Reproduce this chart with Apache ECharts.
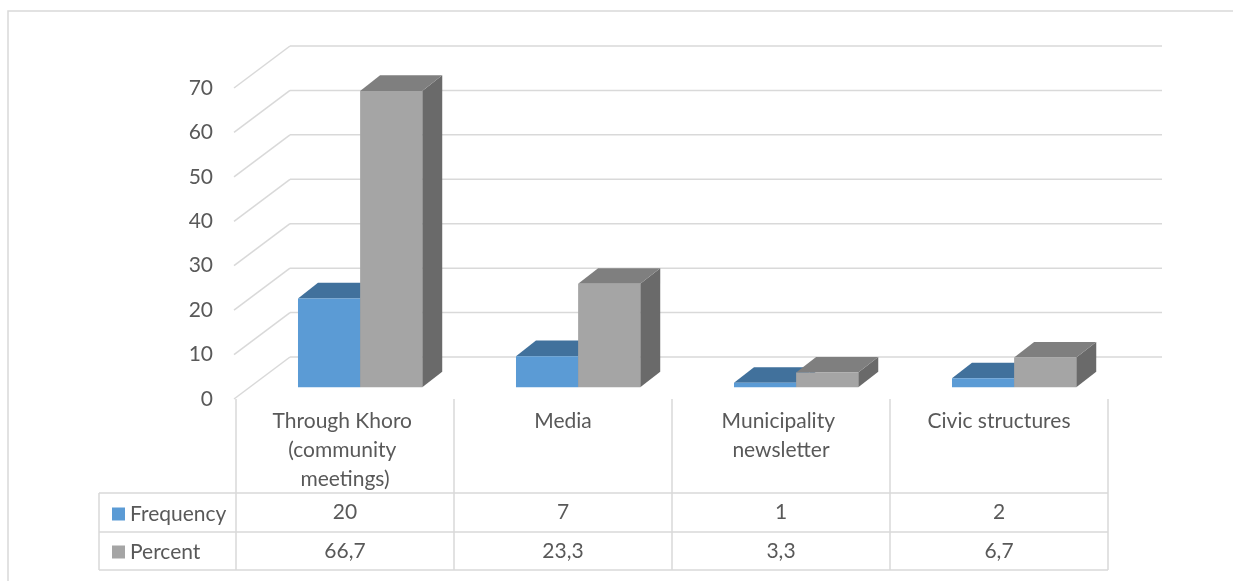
<!DOCTYPE html>
<html><head><meta charset="utf-8">
<script src="https://cdn.jsdelivr.net/npm/echarts@6/dist/echarts.min.js"></script>
<style>html,body{margin:0;padding:0;background:#fff}#chart{width:1233px;height:581px}</style>
</head><body><div id="chart"></div>
<script>
const categories = ['Through Khoro (community meetings)', 'Media', 'Municipality newsletter', 'Civic structures'];
const frequency = [20, 7, 1, 2];
const percent = [66.7, 23.3, 3.3, 6.7];
const yTicks = [0, 10, 20, 30, 40, 50, 60, 70];
const seriesNames = ['Frequency', 'Percent'];

const FONT = 'Lato';
const FS = 21;
const TXT = '#595959';
const LINE = '#D9D9D9';
const DEPTH = [54, -42];
const T0 = 0.28, T1 = 0.65;
const BAR_FRAC = 0.285;
const BLUE = {front: '#5B9BD5', top: '#41719C', side: '#3E6A93'};
const GREY = {front: '#A5A5A5', top: '#7F7F7F', side: '#6A6A6A'};

function fmt(v) { return String(v).replace('.', ','); }

function barRender(colors, side) {
  return function (params, api) {
    const i = api.value(0), v = api.value(1);
    const band = api.size([1, 0])[0];
    const w = band * BAR_FRAC;
    const base = api.coord([i, 0]);
    const top = api.coord([i, v]);
    const x0 = base[0] + DEPTH[0] * T0 + (side < 0 ? -w : 0);
    const x1 = x0 + w;
    const yb = base[1] + DEPTH[1] * T0;
    const yt = top[1] + DEPTH[1] * T0;
    const dx = DEPTH[0] * (T1 - T0), dy = DEPTH[1] * (T1 - T0);
    return {type: 'group', children: [
      {type: 'polygon', shape: {points: [[x1, yb], [x1 + dx, yb + dy], [x1 + dx, yt + dy], [x1, yt]]}, style: {fill: colors.side}},
      {type: 'polygon', shape: {points: [[x0, yt], [x0 + dx, yt + dy], [x1 + dx, yt + dy], [x1, yt]]}, style: {fill: colors.top}},
      {type: 'rect', shape: {x: x0, y: yt, width: w, height: yb - yt}, style: {fill: colors.front}}
    ]};
  };
}

function wallRender(params, api) {
  const v = api.value(1);
  const band = api.size([1, 0])[0];
  const p = api.coord([0, v]);
  const q = api.coord([categories.length - 1, v]);
  const left = p[0] - band / 2;
  const right = q[0] + band / 2;
  const y = p[1];
  const st = {stroke: LINE, lineWidth: 1.5, fill: null};
  return {type: 'group', children: [
    {type: 'line', shape: {x1: left - 2, y1: y, x2: left + DEPTH[0], y2: y + DEPTH[1]}, style: st},
    {type: 'line', shape: {x1: left + DEPTH[0], y1: y + DEPTH[1], x2: right + DEPTH[0], y2: y + DEPTH[1]}, style: st}
  ]};
}

function tableRender(params, api) {
  const i = api.value(0);
  const band = api.size([1, 0])[0];
  const c = api.coord([i, 0]);
  const children = [];
  const ts = (t, y) => ({type: 'text', style: {text: t, x: c[0], y: c[1] + y, align: 'center', verticalAlign: 'middle', fontSize: FS, fontFamily: FONT, fill: TXT}});
  children.push(ts(String(frequency[i]), 113));
  children.push(ts(fmt(percent[i]), 152));
  if (i === 0) {
    const left = c[0] - band / 2;
    const right = api.coord([categories.length - 1, 0])[0] + band / 2;
    const tl = left - 137;
    const st = {stroke: LINE, lineWidth: 1.5, fill: null};
    [94, 133, 171].forEach(dy => children.push({type: 'line', shape: {x1: tl, y1: c[1] + dy, x2: right, y2: c[1] + dy}, style: st}));
    children.push({type: 'line', shape: {x1: tl, y1: c[1] + 94, x2: tl, y2: c[1] + 171}, style: st});
  }
  return {type: 'group', children};
}

const chart = echarts.init(document.getElementById('chart'), null, {renderer: 'canvas'});
chart.setOption({
  animation: false,
  backgroundColor: '#fff',
  textStyle: {fontFamily: FONT},
  graphic: [{type: 'rect', shape: {x: 8, y: 11, width: 1400, height: 800}, style: {fill: null, stroke: LINE, lineWidth: 1.5}, silent: true}],
  legend: {
    data: seriesNames, left: 107, top: 497, orient: 'vertical', itemGap: 14, itemWidth: 13, itemHeight: 13, icon: 'rect',
    selectedMode: false, textStyle: {fontSize: FS, color: TXT, fontFamily: FONT, lineHeight: 24}
  },
  grid: {left: 236, right: 125, top: 88, bottom: 182},
  xAxis: {
    type: 'category', data: categories,
    axisLine: {show: false},
    axisTick: {show: true, interval: 0, length: 171, lineStyle: {color: LINE, width: 1.5}},
    axisLabel: {interval: 0, margin: 8, fontSize: FS, color: TXT, fontFamily: FONT, lineHeight: 29, width: 175, overflow: 'break', align: 'center'},
    splitLine: {show: false}
  },
  yAxis: {
    type: 'value', min: 0, max: 70, interval: 10,
    axisLine: {show: false}, axisTick: {show: false}, splitLine: {show: false},
    axisLabel: {margin: 23, fontSize: FS, color: TXT, fontFamily: FONT}
  },
  series: [
    {type: 'custom', name: 'wall', data: yTicks.map(v => [0, v]), renderItem: wallRender, encode: {x: 0, y: 1}, z: 1, silent: true},
    {type: 'custom', name: seriesNames[0], data: frequency.map((v, i) => [i, v]), renderItem: barRender(BLUE, -1), encode: {x: 0, y: 1}, itemStyle: {color: BLUE.front}, z: 2},
    {type: 'custom', name: seriesNames[1], data: percent.map((v, i) => [i, v]), renderItem: barRender(GREY, 0), encode: {x: 0, y: 1}, itemStyle: {color: GREY.front}, z: 3},
    {type: 'custom', name: 'table', data: categories.map((c, i) => [i, 0]), renderItem: tableRender, encode: {x: 0, y: 1}, z: 2, silent: true}
  ]
});
</script>
</body></html>
